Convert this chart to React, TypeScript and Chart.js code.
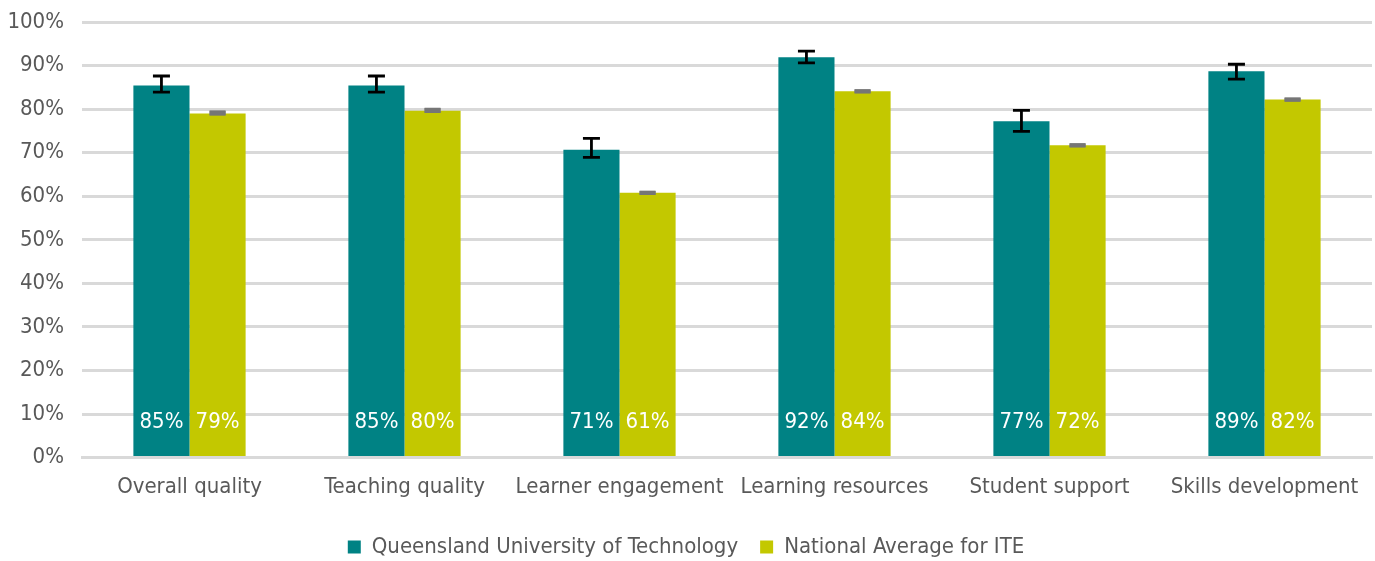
import React, { useEffect, useRef } from "react";
import { Chart, registerables } from "chart.js";

Chart.register(...registerables);

const categories = [
  "Overall quality",
  "Teaching quality",
  "Learner engagement",
  "Learning resources",
  "Student support",
  "Skills development",
];
const qutValues = [85.4, 85.4, 70.7, 91.9, 77.2, 88.7];
const qutLow = [83.9, 83.9, 68.9, 90.6, 74.9, 86.9];
const qutHigh = [87.6, 87.6, 73.3, 93.3, 79.7, 90.3];
const natValues = [79.0, 79.6, 60.8, 84.1, 71.7, 82.2];
const natLow = [78.8, 79.4, 60.6, 83.9, 71.5, 82.0];
const natHigh = [79.4, 80.0, 61.0, 84.3, 71.9, 82.4];
const yTicks = [0, 10, 20, 30, 40, 50, 60, 70, 80, 90, 100];

const FONT = "'Liberation Sans Narrow', 'DejaVu Sans Condensed', Arial, sans-serif";

const errorBarPlugin = {
  id: "errorBars",
  afterDatasetsDraw(chart: any) {
    const ctx = chart.ctx;
    const y = chart.scales.y;
    const sets = [
      { idx: 0, low: qutLow, high: qutHigh, color: "#000000", cap: 17, lw: 2.8 },
      { idx: 1, low: natLow, high: natHigh, color: "#767676", cap: 16, lw: 2.5 },
    ];
    ctx.save();
    sets.forEach((s) => {
      const meta = chart.getDatasetMeta(s.idx);
      meta.data.forEach((bar: any, i: number) => {
        const x = bar.x;
        const yl = y.getPixelForValue(s.low[i]);
        const yh = y.getPixelForValue(s.high[i]);
        ctx.strokeStyle = s.color;
        ctx.lineWidth = s.lw;
        ctx.beginPath();
        ctx.moveTo(x, yl);
        ctx.lineTo(x, yh);
        ctx.moveTo(x - s.cap / 2, yl);
        ctx.lineTo(x + s.cap / 2, yl);
        ctx.moveTo(x - s.cap / 2, yh);
        ctx.lineTo(x + s.cap / 2, yh);
        ctx.stroke();
        if (s.idx === 1) {
          ctx.fillStyle = s.color;
          ctx.fillRect(x - s.cap / 2, yh - 1, s.cap, yl - yh + 2);
        }
      });
    });
    // value labels
    ctx.fillStyle = "#ffffff";
    ctx.font = `22px ${FONT}`;
    ctx.textAlign = "center";
    ctx.textBaseline = "middle";
    [0, 1].forEach((d) => {
      const meta = chart.getDatasetMeta(d);
      const vals = chart.data.datasets[d].data as number[];
      meta.data.forEach((bar: any, i: number) => {
        ctx.fillText(Math.round(vals[i]) + "%", bar.x, y.getPixelForValue(8.2));
      });
    });
    ctx.restore();
  },
};

export default function App() {
  const ref = useRef<HTMLCanvasElement>(null);
  useEffect(() => {
    document.body.style.margin = "0";
    const chart = new Chart(ref.current!, {
      type: "bar",
      data: {
        labels: categories,
        datasets: [
          {
            label: "Queensland University of Technology",
            data: qutValues,
            backgroundColor: "#008284",
          },
          {
            label: "National Average for ITE",
            data: natValues,
            backgroundColor: "#c3c800",
          },
        ],
      },
      options: {
        animation: false,
        responsive: false,
        maintainAspectRatio: false,
        layout: { padding: { top: 22, right: 3, left: 0, bottom: -7 } },
        datasets: {
          bar: { categoryPercentage: 0.522, barPercentage: 1 },
        },
        scales: {
          x: {
            grid: { display: false },
            border: { color: "#d9d9d9", width: 3 },
            afterFit(axis: any) {
              axis.height += 6;
            },
            ticks: {
              color: "#595959",
              font: { family: FONT, size: 22 },
              padding: 8,
              maxRotation: 0,
            },
          },
          y: {
            min: 0,
            max: 100,
            afterFit(axis: any) {
              axis.width = 82;
              axis.paddingTop = 0;
              axis.paddingBottom = 0;
            },
            afterBuildTicks(axis: any) {
              axis.ticks = yTicks.map((v) => ({ value: v }));
            },
            grid: { color: "#d9d9d9", lineWidth: 3, drawTicks: false },
            border: { display: false },
            ticks: {
              color: "#595959",
              font: { family: FONT, size: 22 },
              padding: 18,
              callback: (v: any) => v + "%",
            },
          },
        },
        plugins: {
          legend: {
            position: "bottom",
            labels: {
              color: "#595959",
              font: { family: FONT, size: 22 },
              boxWidth: 13,
              boxHeight: 13,
              padding: 22,
            },
          },
          tooltip: { enabled: false },
        },
      },
      plugins: [errorBarPlugin],
    });
    return () => chart.destroy();
  }, []);
  return (
    <div style={{ width: 1375, height: 561 }}>
      <canvas ref={ref} width={1375} height={561} />
    </div>
  );
}
